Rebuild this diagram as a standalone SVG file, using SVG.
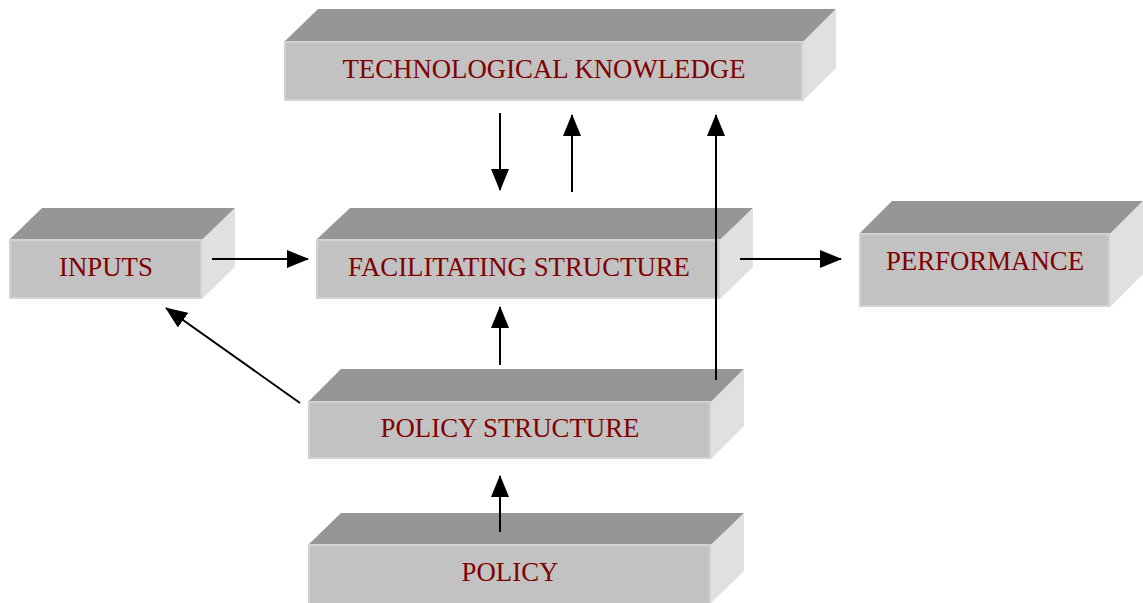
<svg xmlns="http://www.w3.org/2000/svg" width="1143" height="603" viewBox="0 0 1143 603">
<defs>
<style>
.top{fill:#969696}
.side{fill:#e0e0e0}
.front{fill:#c2c2c2;stroke:#d2d2d2;stroke-width:2}
.lbl{font-family:"Liberation Serif","Times New Roman",serif;font-size:26.8px;fill:#800000;text-anchor:middle}
.con{stroke:#000;stroke-width:2;fill:none;marker-end:url(#ah)}
</style>
<marker id="ah" markerUnits="userSpaceOnUse" markerWidth="22" markerHeight="18" viewBox="0 0 22 18" refX="21" refY="9" orient="auto">
<path d="M0,0 L22,9 L0,18 Z" fill="#000"/>
</marker>
</defs>
<rect width="1143" height="603" fill="#fff"/>
<g id="node-tech">
<polygon class="top" points="284,42 318,9 836,9 803,42"/>
<polygon class="side" points="803,42 836,9 836,68 803,101"/>
<rect class="front" x="285" y="42" width="517" height="58"/>
<text class="lbl" x="544" y="78">TECHNOLOGICAL KNOWLEDGE</text>
</g>
<g id="node-inputs">
<polygon class="top" points="9,240 42,208 235,208 202,240"/>
<polygon class="side" points="202,240 235,208 235,267 202,299"/>
<rect class="front" x="10" y="240" width="191" height="58"/>
<text class="lbl" x="106" y="276">INPUTS</text>
</g>
<g id="node-facilitating">
<polygon class="top" points="316,240 350,208 753,208 720,240"/>
<polygon class="side" points="720,240 753,208 753,267 720,299"/>
<rect class="front" x="317" y="240" width="402" height="58"/>
<text class="lbl" x="519" y="276">FACILITATING STRUCTURE</text>
</g>
<g id="node-performance">
<polygon class="top" points="859,234 892,201 1143,201 1110,234"/>
<polygon class="side" points="1110,234 1143,201 1143,274 1110,307"/>
<rect class="front" x="860" y="234" width="249" height="72"/>
<text class="lbl" x="985" y="270">PERFORMANCE</text>
</g>
<g id="node-policy-structure">
<polygon class="top" points="308,402 341,369 744,369 711,402"/>
<polygon class="side" points="711,402 744,369 744,426 711,459"/>
<rect class="front" x="309" y="402" width="401" height="56"/>
<text class="lbl" x="510" y="437">POLICY STRUCTURE</text>
</g>
<g id="node-policy">
<polygon class="top" points="308,545 341,513 744,513 711,545"/>
<polygon class="side" points="711,545 744,513 744,571 711,603"/>
<rect class="front" x="309" y="545" width="401" height="60"/>
<text class="lbl" x="510" y="581">POLICY</text>
</g>
<g id="connectors">
<line class="con" x1="500" y1="113" x2="500" y2="190"/>
<line class="con" x1="572" y1="192" x2="572" y2="115"/>
<line class="con" x1="716" y1="380" x2="716" y2="115"/>
<line class="con" x1="212" y1="259" x2="308" y2="259"/>
<line class="con" x1="740" y1="259" x2="841" y2="259"/>
<line class="con" x1="500" y1="365" x2="500" y2="307"/>
<line class="con" x1="300" y1="403" x2="166" y2="308"/>
<line class="con" x1="500" y1="532" x2="500" y2="476"/>
</g>
</svg>
